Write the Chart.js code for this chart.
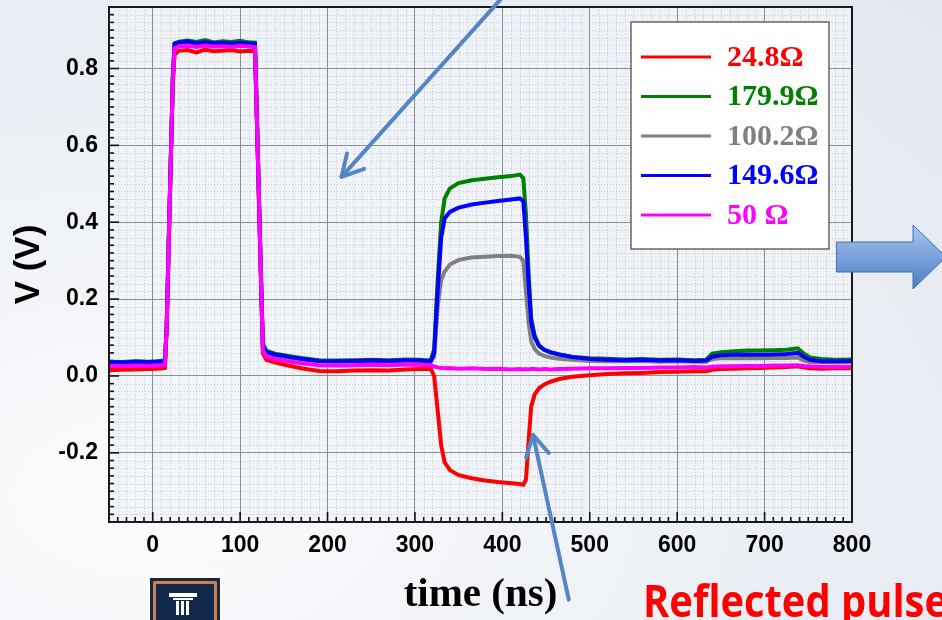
<!DOCTYPE html>
<html>
<head>
<meta charset="utf-8">
<script src="https://cdn.jsdelivr.net/npm/chart.js@4.4.1/dist/chart.umd.min.js"></script>
<style>
  html, body { margin: 0; padding: 0; }
  body {
    width: 942px; height: 620px; overflow: hidden;
    background: radial-gradient(ellipse at 15% 80%, #fbfcfd 0%, #eef1f6 45%, #e3e8f0 100%);
  }
  canvas { display: block; }
</style>
</head>
<body>
<canvas id="myChart" width="942" height="620"></canvas>
<script>
// time axis (ns), shared by all traces
const time = [-50, -35, -20, -5, 5, 14, 16, 19, 23, 25,
  30, 40, 50, 60, 70, 80, 90, 100, 110, 117,
  120, 123, 126, 130, 140, 155, 170, 190, 210, 230,
  250, 270, 290, 305, 318, 322, 326, 330, 334, 340,
  350, 365, 380, 395, 410, 420, 424, 427, 430, 433,
  437, 442, 448, 455, 465, 480, 500, 520, 540, 560,
  580, 600, 620, 633, 640, 650, 665, 680, 695, 710,
  725, 738, 745, 752, 765, 780, 800];

// voltage (V) for each termination
const v24_8 = [0.015, 0.016, 0.017, 0.018, 0.019, 0.021, 0.12, 0.40, 0.76, 0.836,
  0.846, 0.848, 0.842, 0.849, 0.845, 0.846, 0.848, 0.844, 0.846, 0.845,
  0.59, 0.32, 0.06, 0.042, 0.035, 0.027, 0.020, 0.013, 0.012, 0.014,
  0.015, 0.014, 0.017, 0.018, 0.019, 0.000, -0.090, -0.180, -0.225, -0.245,
  -0.258, -0.266, -0.272, -0.276, -0.279, -0.281, -0.283, -0.270, -0.170, -0.080,
  -0.048, -0.032, -0.022, -0.015, -0.008, -0.002, 0.002, 0.005, 0.007, 0.008,
  0.010, 0.011, 0.012, 0.012, 0.016, 0.018, 0.019, 0.020, 0.021, 0.022,
  0.023, 0.025, 0.022, 0.020, 0.019, 0.020, 0.020];

const v179_9 = [0.037, 0.036, 0.038, 0.037, 0.038, 0.040, 0.13, 0.42, 0.78, 0.866,
  0.870, 0.873, 0.869, 0.874, 0.868, 0.871, 0.869, 0.872, 0.868, 0.867,
  0.61, 0.34, 0.085, 0.066, 0.058, 0.052, 0.047, 0.041, 0.040, 0.041,
  0.042, 0.041, 0.043, 0.042, 0.040, 0.070, 0.250, 0.400, 0.462, 0.488,
  0.502, 0.509, 0.513, 0.517, 0.520, 0.524, 0.515, 0.420, 0.270, 0.150,
  0.105, 0.080, 0.068, 0.061, 0.056, 0.050, 0.046, 0.045, 0.043, 0.044,
  0.042, 0.043, 0.041, 0.042, 0.058, 0.062, 0.064, 0.066, 0.066, 0.067,
  0.068, 0.072, 0.058, 0.048, 0.044, 0.042, 0.043];

const v100_2 = [0.035, 0.034, 0.036, 0.035, 0.036, 0.037, 0.13, 0.41, 0.77, 0.862,
  0.866, 0.868, 0.865, 0.868, 0.864, 0.866, 0.864, 0.866, 0.864, 0.863,
  0.60, 0.33, 0.075, 0.058, 0.053, 0.048, 0.043, 0.038, 0.037, 0.038,
  0.039, 0.038, 0.040, 0.039, 0.037, 0.050, 0.180, 0.250, 0.272, 0.290,
  0.302, 0.308, 0.310, 0.312, 0.313, 0.310, 0.300, 0.220, 0.140, 0.090,
  0.070, 0.058, 0.052, 0.048, 0.045, 0.042, 0.039, 0.038, 0.038, 0.039,
  0.037, 0.038, 0.037, 0.037, 0.044, 0.046, 0.046, 0.047, 0.046, 0.047,
  0.047, 0.048, 0.040, 0.036, 0.036, 0.035, 0.036];

const v149_6 = [0.036, 0.035, 0.037, 0.036, 0.037, 0.038, 0.13, 0.41, 0.77, 0.864,
  0.868, 0.870, 0.866, 0.869, 0.866, 0.867, 0.865, 0.867, 0.865, 0.864,
  0.60, 0.33, 0.078, 0.062, 0.056, 0.050, 0.045, 0.039, 0.038, 0.039,
  0.040, 0.039, 0.041, 0.040, 0.038, 0.060, 0.220, 0.360, 0.410, 0.427,
  0.438, 0.446, 0.451, 0.455, 0.459, 0.462, 0.455, 0.360, 0.240, 0.140,
  0.100, 0.078, 0.068, 0.062, 0.056, 0.049, 0.044, 0.042, 0.041, 0.042,
  0.040, 0.041, 0.039, 0.040, 0.050, 0.054, 0.055, 0.056, 0.055, 0.056,
  0.057, 0.060, 0.050, 0.042, 0.038, 0.038, 0.039];

const v50 = [0.026, 0.025, 0.027, 0.026, 0.027, 0.028, 0.13, 0.41, 0.77, 0.853,
  0.857, 0.859, 0.856, 0.860, 0.857, 0.858, 0.856, 0.859, 0.857, 0.855,
  0.60, 0.33, 0.068, 0.050, 0.044, 0.038, 0.033, 0.028, 0.027, 0.028,
  0.029, 0.028, 0.030, 0.029, 0.028, 0.025, 0.022, 0.021, 0.020, 0.021,
  0.019, 0.020, 0.018, 0.019, 0.017, 0.018, 0.017, 0.018, 0.017, 0.018,
  0.018, 0.017, 0.018, 0.017, 0.018, 0.019, 0.020, 0.020, 0.021, 0.021,
  0.022, 0.022, 0.023, 0.022, 0.024, 0.025, 0.025, 0.026, 0.026, 0.027,
  0.027, 0.028, 0.026, 0.025, 0.024, 0.023, 0.024];

const names = ['24.8Ω', '179.9Ω', '100.2Ω', '149.6Ω', '50 Ω'];
const series = [v24_8, v179_9, v100_2, v149_6, v50];
const colors = ['#ff0000', '#008000', '#808080', '#0000ff', '#ff00ff'];
const drawOrder = [4, 3, 2, 1, 0];

const SANS = 'Arial, "Liberation Sans", sans-serif';
const SERIF = '"Times New Roman", "Liberation Serif", serif';

// light plot background, minor dotted grid and inward ticks
const plotDecor = {
  id: 'plotDecor',
  beforeDraw(chart) {
    const {ctx, chartArea: a} = chart;
    ctx.save();
    ctx.fillStyle = 'rgba(240,243,248,0.85)';
    ctx.fillRect(a.left, a.top, a.right - a.left, a.bottom - a.top);
    ctx.restore();
  },
  beforeDatasetsDraw(chart) {
    const {ctx, chartArea: a, scales: {x, y}} = chart;
    ctx.save();
    ctx.strokeStyle = 'rgba(150,155,170,0.45)';
    ctx.lineWidth = 1;
    ctx.setLineDash([1, 2]);
    for (let t = -40; t < 800; t += 10) {
      if (t % 100 === 0) continue;
      const px = Math.round(x.getPixelForValue(t)) + 0.5;
      ctx.beginPath(); ctx.moveTo(px, a.top); ctx.lineTo(px, a.bottom); ctx.stroke();
    }
    for (let k = -18; k < 48; k++) {
      if (k % 10 === 0) continue;
      const py = Math.round(y.getPixelForValue(k * 0.02)) + 0.5;
      ctx.beginPath(); ctx.moveTo(a.left, py); ctx.lineTo(a.right, py); ctx.stroke();
    }
    ctx.setLineDash([]);
    // ticks pointing into the plot
    ctx.strokeStyle = '#111';
    ctx.lineWidth = 1.6;
    for (let t = -40; t < 800; t += 10) {
      const px = x.getPixelForValue(t);
      const len = t % 100 === 0 ? 10 : 5;
      ctx.beginPath(); ctx.moveTo(px, a.bottom); ctx.lineTo(px, a.bottom - len); ctx.stroke();
    }
    for (let k = -18; k < 48; k++) {
      const py = y.getPixelForValue(k * 0.02);
      const len = k % 10 === 0 ? 10 : 5;
      ctx.beginPath(); ctx.moveTo(a.left, py); ctx.lineTo(a.left + len, py); ctx.stroke();
    }
    ctx.restore();
  },
  afterDatasetsDraw(chart) {
    const {ctx, chartArea: a} = chart;
    ctx.save();
    ctx.strokeStyle = '#1a1a1a';
    ctx.lineWidth = 2;
    ctx.strokeRect(a.left, a.top, a.right - a.left, a.bottom - a.top);

    // legend box
    const bx = a.left + 522, by = a.top + 15, bw = 198, bh = 227;
    ctx.fillStyle = '#fff';
    ctx.fillRect(bx, by, bw, bh);
    ctx.strokeStyle = '#666';
    ctx.lineWidth = 1.5;
    ctx.strokeRect(bx, by, bw, bh);
    ctx.font = 'bold 30px ' + SERIF;
    ctx.textBaseline = 'middle';
    chart.data.datasets.forEach((ds, i) => {
      const yy = by + 35 + i * 39.5;
      ctx.strokeStyle = ds.borderColor;
      ctx.lineWidth = 3;
      ctx.beginPath(); ctx.moveTo(bx + 10, yy); ctx.lineTo(bx + 80, yy); ctx.stroke();
      ctx.fillStyle = ds.borderColor;
      ctx.fillText(ds.label, bx + 96, yy + 1);
    });
    ctx.restore();
  }
};

function arrow(ctx, x0, y0, x1, y1) {
  const ang = Math.atan2(y0 - y1, x0 - x1);
  ctx.beginPath(); ctx.moveTo(x0, y0); ctx.lineTo(x1, y1); ctx.stroke();
  ctx.beginPath();
  ctx.moveTo(x1 + 24 * Math.cos(ang - 0.5), y1 + 24 * Math.sin(ang - 0.5));
  ctx.lineTo(x1, y1);
  ctx.lineTo(x1 + 24 * Math.cos(ang + 0.5), y1 + 24 * Math.sin(ang + 0.5));
  ctx.stroke();
}

// slide annotations around the chart
const slideDecor = {
  id: 'slideDecor',
  afterDraw(chart) {
    const {ctx, scales: {x, y}} = chart;
    ctx.save();
    ctx.strokeStyle = '#5586c4';
    ctx.lineWidth = 4;
    ctx.lineCap = 'round';
    ctx.lineJoin = 'round';
    arrow(ctx, x.getPixelForValue(398), y.getPixelForValue(0.98), x.getPixelForValue(216), y.getPixelForValue(0.518));
    arrow(ctx, x.getPixelForValue(476), y.getPixelForValue(-0.582), x.getPixelForValue(435), y.getPixelForValue(-0.153));

    // block arrow at the right
    const g = ctx.createLinearGradient(0, 225, 0, 290);
    g.addColorStop(0, '#a9c5ee');
    g.addColorStop(1, '#4a7cc4');
    ctx.fillStyle = g;
    ctx.strokeStyle = '#3f6fb3';
    ctx.lineWidth = 1;
    ctx.beginPath();
    ctx.moveTo(837, 242); ctx.lineTo(913, 242); ctx.lineTo(913, 225);
    ctx.lineTo(946, 257); ctx.lineTo(913, 289); ctx.lineTo(913, 272);
    ctx.lineTo(837, 272); ctx.closePath();
    ctx.fill(); ctx.stroke();

    // university logo
    ctx.fillStyle = '#ffffff';
    ctx.fillRect(147, 575, 76, 50);
    ctx.fillStyle = '#13294b';
    ctx.fillRect(150, 578, 70, 47);
    ctx.strokeStyle = '#d0804a';
    ctx.lineWidth = 3;
    ctx.strokeRect(154.5, 582.5, 61, 44);
    ctx.fillStyle = '#ffffff';
    ctx.fillRect(169, 593, 28, 4);
    ctx.fillRect(173, 598, 20, 2);
    ctx.fillRect(176, 601, 3, 14);
    ctx.fillRect(181, 601, 3, 14);
    ctx.fillRect(186, 601, 3, 14);

    // red caption
    ctx.fillStyle = '#ff0000';
    ctx.font = 'bold 45px "Open Sans", ' + SANS;
    ctx.textBaseline = 'alphabetic';
    const txt = 'Reflected pulse';
    const w = ctx.measureText(txt).width;
    ctx.translate(643, 617);
    ctx.scale(305 / w, 1);
    ctx.fillText(txt, 0, 0);
    ctx.restore();
  }
};

const ctx = document.getElementById('myChart');

new Chart(ctx, {
  type: 'line',
  data: {
    datasets: series.map((vals, i) => ({
      label: names[i],
      data: time.map((t, k) => ({x: t, y: vals[k]})),
      borderColor: colors[i],
      backgroundColor: colors[i],
      borderWidth: 4,
      pointRadius: 0,
      tension: 0,
      order: drawOrder[i]
    }))
  },
  options: {
    responsive: false,
    animation: false,
    devicePixelRatio: 1,
    layout: { padding: { left: 0, right: 90, top: 7, bottom: 0 } },
    plugins: {
      legend: { display: false },
      tooltip: { enabled: false }
    },
    scales: {
      x: {
        type: 'linear',
        min: -50,
        max: 800,
        afterFit: s => { s.height = 98; s.paddingLeft = 0; s.paddingRight = 0; },
        border: { display: false },
        grid: { color: '#8e8e8e', lineWidth: 1, drawTicks: false },
        ticks: {
          stepSize: 100,
          includeBounds: false,
          autoSkip: false,
          maxRotation: 0,
          padding: 10,
          color: '#000',
          font: { family: SANS, size: 23, weight: 'bold' },
          callback: v => String(v)
        },
        title: {
          display: true,
          text: 'time (ns)',
          color: '#000',
          font: { family: SERIF, size: 41, weight: 'bold' },
          padding: { top: 0, bottom: 0 }
        }
      },
      y: {
        min: -0.38,
        max: 0.96,
        afterFit: s => { s.width = 109; s.paddingTop = 0; s.paddingBottom = 0; },
        border: { display: false },
        grid: { color: '#8e8e8e', lineWidth: 1, drawTicks: false },
        ticks: {
          stepSize: 0.2,
          includeBounds: false,
          padding: 11,
          color: '#000',
          font: { family: SANS, size: 23, weight: 'bold' },
          callback: v => (Math.round(v * 5) / 5).toFixed(1)
        },
        title: {
          display: true,
          text: 'V (V)',
          color: '#000',
          font: { family: SANS, size: 35, weight: 'bold' },
          padding: { top: 8, bottom: 0 }
        }
      }
    }
  },
  plugins: [plotDecor, slideDecor]
});
</script>
</body>
</html>
